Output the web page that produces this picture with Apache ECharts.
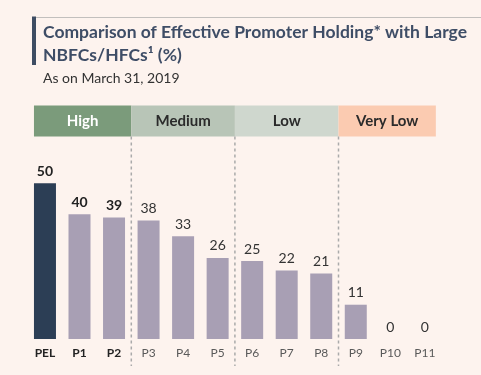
<!DOCTYPE html>
<html>
<head>
<meta charset="utf-8">
<script src="https://cdn.jsdelivr.net/npm/echarts@6/dist/echarts.min.js"></script>
<style>
  html, body { margin: 0; padding: 0; background: #fdf3ee; }
  #chart { width: 481px; height: 375px; }
</style>
</head>
<body>
<div id="chart"></div>
<script>
// 数据
var categories = ["PEL", "P1", "P2", "P3", "P4", "P5", "P6", "P7", "P8", "P9", "P10", "P11"];
var holding = [50, 40, 39, 38, 33, 26, 25, 22, 21, 11, 0, 0];
var bandNames = ["High", "Medium", "Low", "Very Low"];
var bandFirst = [0, 3, 6, 9];
var bandLast = [2, 5, 8, 11];

var fontName = "Lato";
var barW = 22;
var bandColors = ["#7b9b7b", "#b8c5b7", "#cfd7ce", "#fbcbb1"];
var bandText = ["#ffffff", "#2b2b2b", "#2b2b2b", "#2b2b2b"];

var myChart = echarts.init(document.getElementById("chart"));

function isHigh(i) {
  return i <= bandLast[0];
}

myChart.setOption({
  backgroundColor: "#fdf3ee",
  animation: false,
  title: [
    {
      text: "Comparison of Effective Promoter Holding* with Large\nNBFCs/HFCs¹ (%)",
      left: 38,
      top: 16,
      textStyle: {
        fontFamily: fontName,
        fontWeight: "bold",
        fontSize: 17.5,
        lineHeight: 23,
        color: "#3e4d66"
      }
    },
    {
      text: "As on March 31, 2019",
      left: 38,
      top: 66,
      textStyle: {
        fontFamily: fontName,
        fontWeight: "normal",
        fontSize: 14,
        color: "#333"
      }
    }
  ],
  grid: {
    left: 27.7,
    right: 38.9,
    top: 152,
    bottom: 36
  },
  xAxis: {
    type: "category",
    data: categories,
    axisLine: { show: false },
    axisTick: { show: false },
    axisLabel: {
      interval: 0,
      margin: 8,
      fontFamily: fontName,
      fontSize: 12,
      color: "#5a5a5a",
      formatter: function(v, i) {
        return isHigh(i) ? "{b|" + v + "}" : v;
      },
      rich: {
        b: { fontFamily: fontName, fontSize: 12, fontWeight: "bold", color: "#222" }
      }
    }
  },
  yAxis: {
    type: "value",
    min: 0,
    max: 60,
    show: false
  },
  series: [
    {
      type: "bar",
      barWidth: barW,
      data: holding.map(function(v, i) {
        return {
          value: v,
          itemStyle: { color: i === 0 ? "#2c3e55" : "#a89fb4" },
          label: {
            fontWeight: isHigh(i) ? "bold" : "normal",
            color: isHigh(i) ? "#222" : "#333"
          }
        };
      }),
      label: {
        show: true,
        position: "top",
        distance: 5,
        fontFamily: fontName,
        fontSize: 14
      }
    }
  ]
});

// 分组色块和虚线 (位置由坐标轴换算)
function px(i) {
  return myChart.convertToPixel({ xAxisIndex: 0 }, categories[i]);
}
var step = px(1) - px(0);
var bandTop = 105.5, bandBottom = 136.5;
var graphics = [
  // 标题左侧竖条和顶部细线
  { type: "rect", shape: { x: 32, y: 16.5, width: 4, height: 48.5 }, style: { fill: "#3e4d63" } },
  { type: "line", shape: { x1: 36, y1: 17.5, x2: 481, y2: 17.5 }, style: { stroke: "#c2bfbd", lineWidth: 1 } }
];
bandNames.forEach(function(name, k) {
  var x0 = k === 0 ? px(bandFirst[k]) - barW / 2 : px(bandFirst[k]) - step / 2;
  var x1 = k === bandNames.length - 1 ? px(bandLast[k]) + barW / 2 : px(bandLast[k]) + step / 2;
  graphics.push({
    type: "rect",
    shape: { x: x0, y: bandTop, width: x1 - x0, height: bandBottom - bandTop },
    style: { fill: bandColors[k] }
  });
  graphics.push({
    type: "text",
    x: (x0 + x1) / 2,
    y: (bandTop + bandBottom) / 2,
    style: {
      text: name,
      fill: bandText[k],
      font: "bold 15px " + fontName,
      align: "center",
      verticalAlign: "middle"
    }
  });
  if (k > 0) {
    graphics.push({
      type: "line",
      shape: { x1: x0, y1: bandBottom, x2: x0, y2: 366 },
      style: { stroke: "#aaaaaa", lineWidth: 1.5, lineDash: [3, 3] }
    });
  }
});
myChart.setOption({ graphic: graphics });
</script>
</body>
</html>
